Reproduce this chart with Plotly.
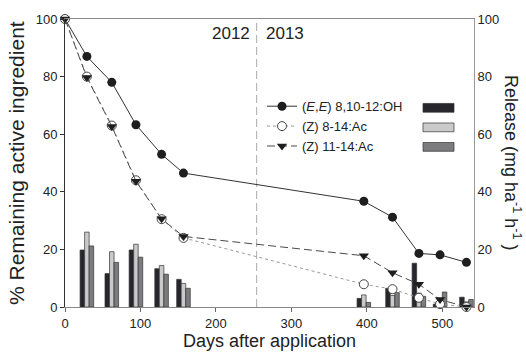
import plotly.graph_objects as go

# ---------------- data ----------------
DAYS = [0, 29, 62, 94, 128, 157, 396, 434, 469, 497, 532]
EE_REMAIN = [100, 87, 78, 63.3, 53, 46.5, 36.7, 31.2, 18.6, 18.1, 15.5]
Z8_REMAIN = [100, 80, 63, 44, 30.5, 24, 7.9, 6.2, 3.2, 1.0, 0.0]
Z11_REMAIN = [100, 79.7, 62.7, 43.7, 30.6, 24.5, 17.8, 11.9, 7.9, 2.6, 0.0]

BAR_DAYS = [29, 62, 94, 128, 157, 396, 434, 469, 497, 532]
EE_RELEASE = [19.8, 11.6, 19.8, 13.3, 9.6, 3.0, 6.5, 15.2, 1.0, 3.4]
Z8_RELEASE = [26.0, 19.2, 21.8, 14.4, 8.2, 4.2, 4.0, 4.8, 0.3, 1.8]
Z11_RELEASE = [21.2, 15.5, 17.3, 11.4, 6.5, 1.6, 5.0, 3.7, 5.2, 2.6]

NAMES = ["(<i>E</i>,<i>E</i>) 8,10-12:OH", "(Z) 8-14:Ac", "(Z) 11-14:Ac"]
YEAR_BOUNDARY = 254
YEAR_LABELS = ["2012", "2013"]
X_TICKS = [0, 100, 200, 300, 400, 500]
Y_TICKS = [0, 20, 40, 60, 80, 100]

BAR_COLORS = ["#26262c", "#cacaca", "#7c7c7e"]
FONT = "Liberation Sans, Arial, sans-serif"
TXT = "#222222"

fig = go.Figure()

# bars on primary (right, "Release") axis -> drawn beneath
bar_sets = [EE_RELEASE, Z8_RELEASE, Z11_RELEASE]
offsets = [-9, -3, 3]
for vals, col, off in zip(bar_sets, BAR_COLORS, offsets):
    fig.add_trace(go.Bar(
        x=BAR_DAYS, y=vals, width=6, offset=off,
        marker=dict(color=col, line=dict(color="#333333", width=0.7)),
        showlegend=False, yaxis="y", hoverinfo="skip"))

# lines on overlaying left axis -> drawn on top
fig.add_trace(go.Scatter(
    x=DAYS, y=EE_REMAIN, name=NAMES[0], yaxis="y2", mode="lines+markers",
    line=dict(color="#333333", width=1),
    marker=dict(symbol="circle", size=9, color="#1e1e1e"), cliponaxis=False))
fig.add_trace(go.Scatter(
    x=DAYS, y=Z8_REMAIN, name=NAMES[1], yaxis="y2", mode="lines+markers",
    line=dict(color="#9a9a9a", width=1, dash="dot"),
    marker=dict(symbol="circle", size=9, color="white",
                line=dict(color="#444444", width=1)), cliponaxis=False))
fig.add_trace(go.Scatter(
    x=DAYS, y=Z11_REMAIN, name=NAMES[2], yaxis="y2", mode="lines+markers",
    line=dict(color="#4a4a4a", width=1, dash="8px,4px"),
    marker=dict(symbol="triangle-down", size=9, color="#1e1e1e"), cliponaxis=False))

L, R, T, B = 65, 52, 14, 49
W, H = 526, 358
pw, ph = W - L - R, H - T - B

fig.update_layout(
    width=W, height=H, margin=dict(l=L, r=R, t=T, b=B),
    paper_bgcolor="white", plot_bgcolor="white",
    font=dict(family=FONT, size=13, color=TXT),
    barmode="overlay",
    xaxis=dict(range=[0, 542], tickvals=X_TICKS, ticks="outside", ticklen=4,
               tickcolor="#666", showline=True, linecolor="#888", linewidth=1,
               mirror=True, showgrid=False, zeroline=False,
               tickfont=dict(size=13, color=TXT),
               title=dict(text="Days after application", font=dict(size=18, color=TXT),
                          standoff=3)),
    yaxis=dict(range=[0, 100], side="right", tickvals=Y_TICKS, ticks="",
               showline=True, linecolor="#999", linewidth=1, showgrid=False,
               zeroline=False, tickfont=dict(size=13, color=TXT)),
    yaxis2=dict(range=[0, 100], side="left", overlaying="y", tickvals=Y_TICKS,
                ticks="outside", ticklen=4, tickcolor="#333", showline=True,
                linecolor="#333", linewidth=1, showgrid=False, zeroline=False,
                tickfont=dict(size=13, color=TXT)),
    legend=dict(x=(262 - L) / pw, y=(H - B - 88) / ph, xanchor="left", yanchor="top",
                bgcolor="rgba(0,0,0,0)", font=dict(size=13, color=TXT),
                itemwidth=30, tracegroupgap=0),
)

# year boundary
fig.add_shape(type="line", x0=YEAR_BOUNDARY, x1=YEAR_BOUNDARY, y0=0, y1=1,
              xref="x", yref="paper", line=dict(color="#aaaaaa", width=1, dash="8px,4px"),
              layer="below")
fig.add_annotation(x=YEAR_BOUNDARY, y=95, xref="x", yref="y", text=YEAR_LABELS[0],
                   showarrow=False, xanchor="right", xshift=-5,
                   font=dict(size=17, color=TXT))
fig.add_annotation(x=YEAR_BOUNDARY, y=95, xref="x", yref="y", text=YEAR_LABELS[1],
                   showarrow=False, xanchor="left", xshift=7,
                   font=dict(size=17, color=TXT))

# axis titles (left reads bottom-up, right reads top-down)
fig.add_annotation(x=0, y=0.5, xref="paper", yref="paper", xshift=-49,
                   xanchor="center", yanchor="middle",
                   text="% Remaining active ingredient", textangle=-90,
                   showarrow=False, font=dict(size=21, color=TXT))
fig.add_annotation(x=1, y=0.5, xref="paper", yref="paper", xshift=39,
                   xanchor="center", yanchor="middle",
                   text="Release (mg ha<sup>-1</sup> h<sup>-1</sup> )", textangle=90,
                   showarrow=False, font=dict(size=18, color=TXT))

# bar swatches for the legend (right column)
row_centers = [105, 125, 145]
for col, yc in zip(BAR_COLORS, row_centers):
    fig.add_shape(type="rect", xref="paper", yref="paper",
                  x0=(423 - L) / pw, x1=(454 - L) / pw,
                  y0=(H - B - (yc + 4.5)) / ph, y1=(H - B - (yc - 4.5)) / ph,
                  fillcolor=col, line=dict(color="#333", width=0.7))

fig.write_html("out.html", post_script="document.body.style.margin='0';",
               config={"displayModeBar": False})
